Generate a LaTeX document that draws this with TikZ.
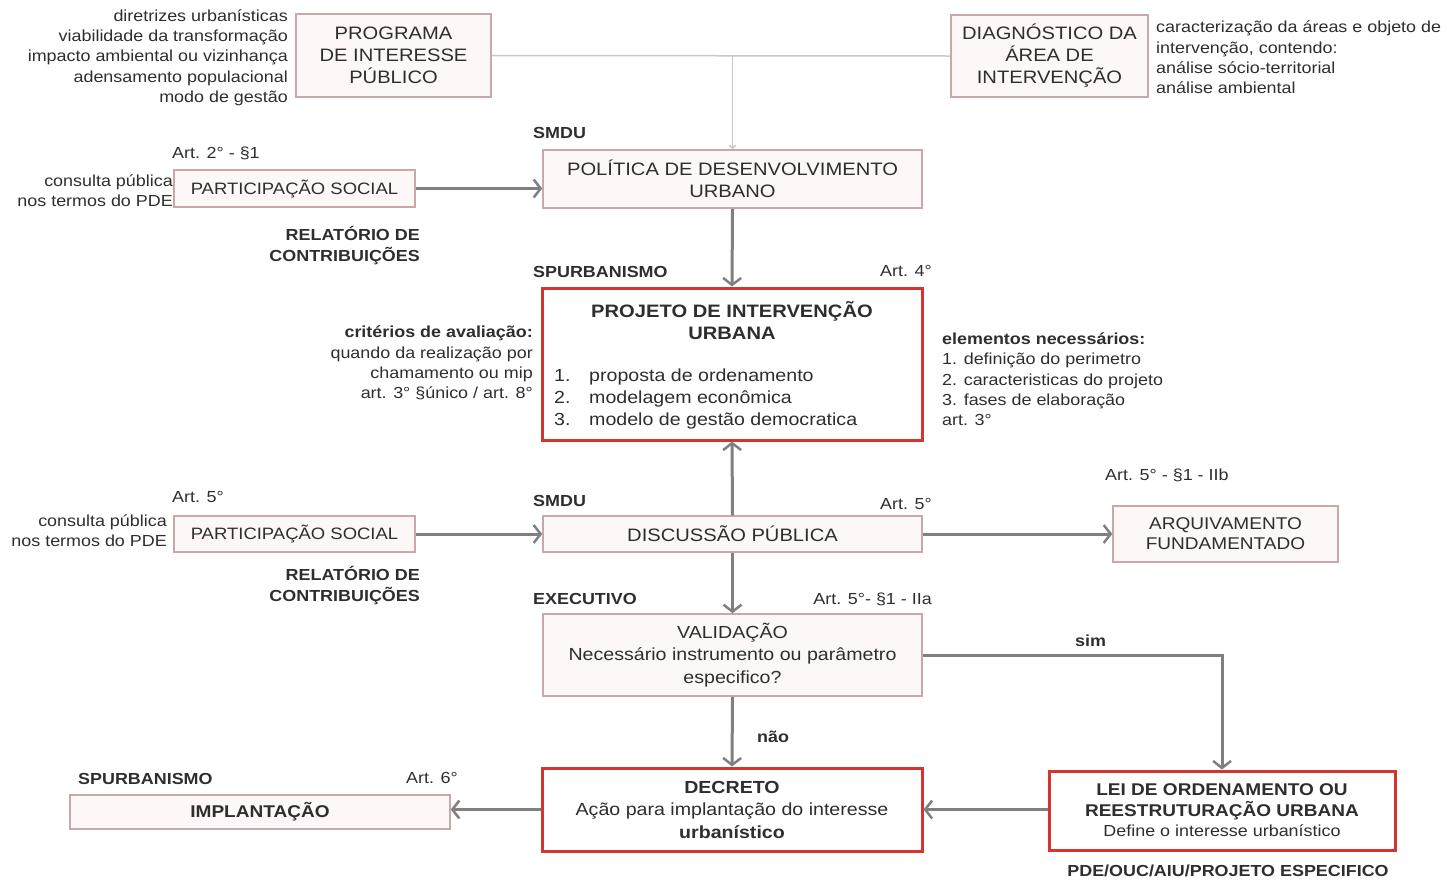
\documentclass[tikz,border=0pt]{standalone}
\usepackage{fontspec}
\setmainfont{Liberation Sans}[FakeStretch=1.12]
\usetikzlibrary{arrows.meta}
\definecolor{boxline}{HTML}{C8A8A8}
\definecolor{boxfill}{HTML}{FDF7F7}
\definecolor{redline}{HTML}{D5352C}
\definecolor{arrowgray}{HTML}{808080}
\definecolor{thingray}{HTML}{C8C8C8}
\definecolor{txt}{HTML}{2E2E2E}
\newcommand\fsz[2]{\fontsize{#1}{#2}\selectfont}
\begin{document}
\begin{tikzpicture}[x=1pt,y=-1pt,
  box/.style={draw=boxline, line width=1.5pt, fill=boxfill, inner sep=0pt, text=txt, align=center, font=\fsz{18}{22}},
  redbox/.style={draw=redline, line width=3pt, fill=white, inner sep=0pt, text=txt, align=center, font=\fsz{18}{22}},
  note/.style={inner sep=0pt, text=txt, font=\fsz{16}{20.3}},
  lab/.style={inner sep=0pt, text=txt, font=\fsz{16}{20}\bfseries},
  flow/.style={draw=arrowgray, line width=3pt, -{Straight Barb[length=7pt,width=18pt,line width=2.5pt]}},
  thin/.style={draw=thingray, line width=1.5pt}
]
\useasboundingbox (0,0) rectangle (1447,879);

% boxes
\node[box, minimum width=195pt, minimum height=83pt] (prog) at (393.5,55.5) {PROGRAMA\\DE INTERESSE\\PÚBLICO};
\node[box, minimum width=197pt, minimum height=82pt] (diag) at (1049.5,56) {DIAGNÓSTICO DA\\ÁREA DE\\INTERVENÇÃO};
\node[box, minimum width=379pt, minimum height=58pt] (pol) at (732.5,179) {POLÍTICA DE DESENVOLVIMENTO\\URBANO};
\node[box, minimum width=241pt, minimum height=37pt, font=\fsz{16.5}{20}] (ps1) at (294.5,188.5) {PARTICIPAÇÃO SOCIAL};
\node[redbox, minimum width=380pt, minimum height=152pt] (proj) at (732,364) {};
\node[inner sep=0pt, text=txt, align=center, font=\fsz{18}{22}\bfseries] (projt) at (732,321) {PROJETO DE INTERVENÇÃO\\URBANA};
\node[inner sep=0pt, text=txt, align=left, font=\fsz{17.5}{22}, anchor=west] (projl) at (554,399)
  {\makebox[35pt][l]{1.}proposta de ordenamento\\\makebox[35pt][l]{2.}modelagem econômica\\\makebox[35pt][l]{3.}modelo de gestão democratica};
\node[box, minimum width=379pt, minimum height=36pt] (disc) at (732.5,534) {DISCUSSÃO PÚBLICA};
\node[box, minimum width=241pt, minimum height=36pt, font=\fsz{16.5}{20}] (ps2) at (294.5,534) {PARTICIPAÇÃO SOCIAL};
\node[box, minimum width=225pt, minimum height=56pt, font=\fsz{17}{20}] (arq) at (1225.5,534) {ARQUIVAMENTO\\FUNDAMENTADO};
\node[box, minimum width=379pt, minimum height=82pt, font=\fsz{17.5}{22.5}] (val) at (732.5,655) {VALIDAÇÃO\\Necessário instrumento ou parâmetro\\especifico?};
\node[redbox, minimum width=380pt, minimum height=83pt, font=\fsz{17.5}{22.5}] (dec) at (732,809.5) {\textbf{DECRETO}\\Ação para implantação do interesse\\\textbf{urbanístico}};
\node[redbox, minimum width=346pt, minimum height=79pt, font=\fsz{17}{20.5}] (lei) at (1222,810.5) {\textbf{LEI DE ORDENAMENTO OU}\\\textbf{REESTRUTURAÇÃO URBANA}\\{\fsz{16}{20}Define o interesse urbanístico}};
\node[box, minimum width=380pt, minimum height=34pt, font=\fsz{17}{20}\bfseries] (imp) at (260,812) {IMPLANTAÇÃO};

% annotations
\node[note, align=right, anchor=east] (n1) at (288,57.5) {diretrizes urbanísticas\\viabilidade da transformação\\impacto ambiental ou vizinhança\\adensamento populacional\\modo de gestão};
\node[note, align=left, anchor=west] (n2) at (1156,57.5) {caracterização da áreas e objeto de\\intervenção, contendo:\\análise sócio-territorial\\análise ambiental};
\node[lab, anchor=base west] (l1) at (533,138) {SMDU};
\node[note, anchor=base west] (l2) at (172,158) {Art. 2° - §1};
\node[note, align=right, anchor=east] (n3) at (173,191) {consulta pública\\nos termos do PDE};
\node[lab, align=right, anchor=east, font=\fsz{16}{21}\bfseries] (r1) at (420,245.5) {RELATÓRIO DE\\CONTRIBUIÇÕES};
\node[lab, anchor=base west] (l3) at (533,277) {SPURBANISMO};
\node[note, anchor=base east] (l4) at (932,276) {Art. 4°};
\node[note, align=right, anchor=east] (n4) at (533,363) {\textbf{critérios de avaliação:}\\quando da realização por\\chamamento ou mip\\art. 3° §único / art. 8°};
\node[note, align=left, anchor=west] (n5) at (942,379.5) {\textbf{elementos necessários:}\\1. definição do perimetro\\2. caracteristicas do projeto\\3. fases de elaboração\\art. 3°};
\node[note, anchor=base west] (l5) at (172,502) {Art. 5°};
\node[note, align=right, anchor=east] (n6) at (167,531) {consulta pública\\nos termos do PDE};
\node[lab, align=right, anchor=east, font=\fsz{16}{21}\bfseries] (r2) at (420,585.5) {RELATÓRIO DE\\CONTRIBUIÇÕES};
\node[lab, anchor=base west] (l6) at (533,506) {SMDU};
\node[note, anchor=base east] (l7) at (932,509) {Art. 5°};
\node[note, anchor=base west] (l8) at (1105,480) {Art. 5° - §1 - IIb};
\node[lab, anchor=base west] (l9) at (533,604) {EXECUTIVO};
\node[note, anchor=base east] (l10) at (932,604) {Art. 5°- §1 - IIa};
\node[lab, anchor=base west] (l11) at (1075,646) {sim};
\node[lab, anchor=base west] (l12) at (757,742) {não};
\node[lab, anchor=base west] (l13) at (78,784) {SPURBANISMO};
\node[note, anchor=base east] (l14) at (458,783) {Art. 6°};
\node[lab, anchor=base] (l15) at (1228,876) {PDE/OUC/AIU/PROJETO ESPECIFICO};

% connectors
\coordinate (tj) at (pol.north |- prog.east);
\draw[thin] (prog.east) -- (diag.west);
\draw[thin, -{Straight Barb[length=3pt,width=6pt]}] (tj) -- (pol.north);
\draw[flow] (ps1.east) -- (pol.west |- ps1.east);
\draw[flow] (pol.south) -- (proj.north);
\draw[flow] (disc.north) -- (proj.south);
\draw[flow] (ps2.east) -- (disc.west);
\draw[flow] (disc.east) -- (arq.west);
\draw[flow] (disc.south) -- (val.north);
\draw[flow] (val.south) -- (dec.north);
\draw[flow] (val.east) -- (lei.north |- val.east) -- (lei.north);
\draw[flow] (lei.west |- dec.east) -- (dec.east);
\draw[flow] (dec.west) -- (imp.east |- dec.west);
\end{tikzpicture}
\end{document}
